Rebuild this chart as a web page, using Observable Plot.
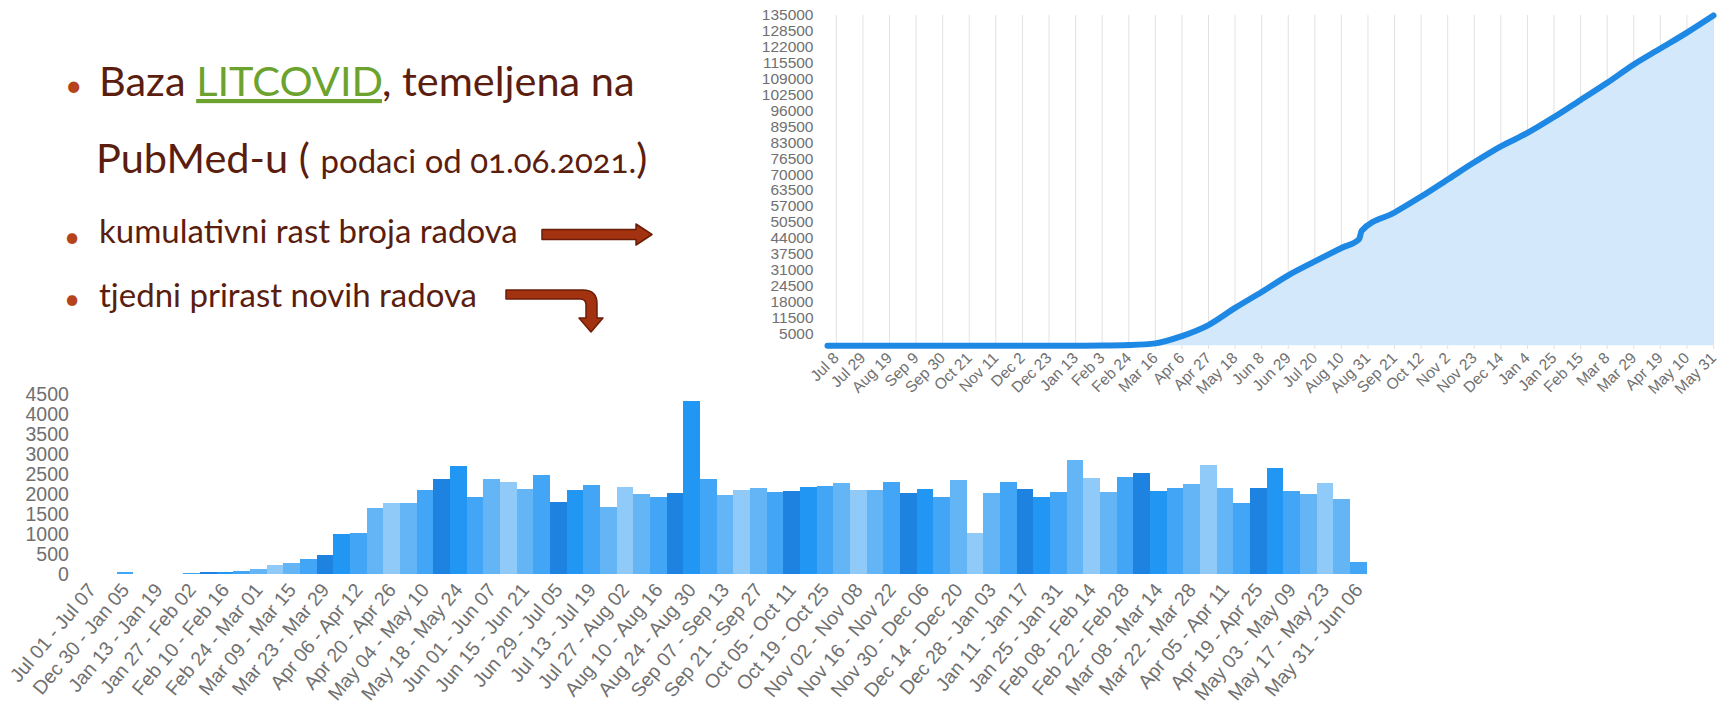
<!DOCTYPE html>
<html><head><meta charset="utf-8">
<script src="https://cdn.jsdelivr.net/npm/d3@7"></script>
<script src="https://cdn.jsdelivr.net/npm/@observablehq/plot@0.6"></script>
<style>
html,body{margin:0;padding:0;background:#fff;}
#stage{position:relative;width:1718px;height:710px;overflow:hidden;background:#fff;}
#slide{position:absolute;left:0;top:0;}
#weekly{position:absolute;left:0;top:380px;}
#cum{position:absolute;left:700px;top:0;}
#weekly [aria-label^="y-axis"]{font-size:19.5px;}
</style></head><body>
<div id="stage">
<svg id="slide" width="700" height="360" font-family="Lato, 'Open Sans', sans-serif">
  <g fill="#b5441c">
    <text x="65" y="96" font-size="30">•</text>
    <text x="64" y="247" font-size="28">•</text>
    <text x="64" y="309" font-size="28">•</text>
  </g>
  <g fill="#5b1d0e">
    <text x="99" y="96" font-size="41.5">Baza <tspan fill="#6ba32e" text-decoration="underline">LITCOVID</tspan>, temeljena na</text>
    <text x="96" y="173" font-size="41.5">PubMed-u ( <tspan font-size="33" style="font-variant-numeric:oldstyle-nums">podaci od 01.06.2021.</tspan>)</text>
    <text x="99" y="243" font-size="33">kumulativni rast broja radova</text>
    <text x="99" y="307" font-size="33">tjedni prirast novih radova</text>
  </g>
  <g fill="#a33210" stroke="#6b1e07" stroke-width="1.5" stroke-linejoin="round">
    <path d="M542,229.5 H636 V224 L652,234.5 L636,245 V239.5 H542 Z"/>
    <path d="M506,290 H583 Q597,290 597,304 V318 H603 L591,332 L579,318 H586 V305 Q586,299 580,299 H506 Z"/>
  </g>
</svg>
<div id="weekly"></div>
<div id="cum"></div>
</div>
<script>
// ---- cumulative chart data ----
const cumDates = ["2019-07-01","2019-07-29","2019-08-19","2019-09-09","2019-09-30","2019-10-21","2019-11-11","2019-12-02","2019-12-23","2020-01-13","2020-02-03","2020-02-24","2020-03-16","2020-04-06","2020-04-27","2020-05-18","2020-06-08","2020-06-29","2020-07-20","2020-08-10","2020-08-24","2020-08-26","2020-09-21","2020-10-12","2020-11-02","2020-11-23","2020-12-14","2021-01-04","2021-01-25","2021-02-15","2021-03-08","2021-03-29","2021-04-19","2021-05-10","2021-05-31"];
const cumValues = [0,0,0,0,0,0,0,0,0,50,100,300,1000,4000,8500,15500,22000,28800,34500,40000,43600,47000,54500,61000,68000,75000,81500,87000,93500,100500,107500,115000,121500,128000,135000];
const cumTicks = ["2019-07-08","2019-07-29","2019-08-19","2019-09-09","2019-09-30","2019-10-21","2019-11-11","2019-12-02","2019-12-23","2020-01-13","2020-02-03","2020-02-24","2020-03-16","2020-04-06","2020-04-27","2020-05-18","2020-06-08","2020-06-29","2020-07-20","2020-08-10","2020-08-31","2020-09-21","2020-10-12","2020-11-02","2020-11-23","2020-12-14","2021-01-04","2021-01-25","2021-02-15","2021-03-08","2021-03-29","2021-04-19","2021-05-10","2021-05-31"];
const cumYTicks = [5000,11500,18000,24500,31000,37500,44000,50500,57000,63500,70000,76500,83000,89500,96000,102500,109000,115500,122000,128500,135000];

// ---- weekly chart data ----
const weekLabels = ["Jul 01 - Jul 07","Dec 23 - Dec 29","Dec 30 - Jan 05","Jan 06 - Jan 12","Jan 13 - Jan 19","Jan 20 - Jan 26","Jan 27 - Feb 02","Feb 03 - Feb 09","Feb 10 - Feb 16","Feb 17 - Feb 23","Feb 24 - Mar 01","Mar 02 - Mar 08","Mar 09 - Mar 15","Mar 16 - Mar 22","Mar 23 - Mar 29","Mar 30 - Apr 05","Apr 06 - Apr 12","Apr 13 - Apr 19","Apr 20 - Apr 26","Apr 27 - May 03","May 04 - May 10","May 11 - May 17","May 18 - May 24","May 25 - May 31","Jun 01 - Jun 07","Jun 08 - Jun 14","Jun 15 - Jun 21","Jun 22 - Jun 28","Jun 29 - Jul 05","Jul 06 - Jul 12","Jul 13 - Jul 19","Jul 20 - Jul 26","Jul 27 - Aug 02","Aug 03 - Aug 09","Aug 10 - Aug 16","Aug 17 - Aug 23","Aug 24 - Aug 30","Aug 31 - Sep 06","Sep 07 - Sep 13","Sep 14 - Sep 20","Sep 21 - Sep 27","Sep 28 - Oct 04","Oct 05 - Oct 11","Oct 12 - Oct 18","Oct 19 - Oct 25","Oct 26 - Nov 01","Nov 02 - Nov 08","Nov 09 - Nov 15","Nov 16 - Nov 22","Nov 23 - Nov 29","Nov 30 - Dec 06","Dec 07 - Dec 13","Dec 14 - Dec 20","Dec 21 - Dec 27","Dec 28 - Jan 03","Jan 04 - Jan 10","Jan 11 - Jan 17","Jan 18 - Jan 24","Jan 25 - Jan 31","Feb 01 - Feb 07","Feb 08 - Feb 14","Feb 15 - Feb 21","Feb 22 - Feb 28","Mar 01 - Mar 07","Mar 08 - Mar 14","Mar 15 - Mar 21","Mar 22 - Mar 28","Mar 29 - Apr 04","Apr 05 - Apr 11","Apr 12 - Apr 18","Apr 19 - Apr 25","Apr 26 - May 02","May 03 - May 09","May 10 - May 16","May 17 - May 23","May 24 - May 30","May 31 - Jun 06"];
const weeklyCounts = [0,0,50,0,0,10,25,55,60,85,125,220,265,375,475,1000,1025,1640,1775,1770,2100,2375,2700,1920,2370,2290,2125,2470,1810,2100,2225,1685,2165,2000,1915,2025,4320,2375,1975,2110,2140,2060,2080,2170,2190,2275,2100,2100,2290,2015,2115,1935,2350,1015,2025,2300,2125,1935,2050,2860,2400,2040,2430,2520,2065,2150,2250,2725,2140,1765,2150,2660,2080,2000,2270,1880,300];
const weeklyYTicks = [0,500,1000,1500,2000,2500,3000,3500,4000,4500];

const shades = ["#1e82e0","#2196f3","#42a5f5","#64b5f6","#90caf9","#64b5f6","#42a5f5"];

const axisFont = "'Liberation Sans', Arial, sans-serif";

const cumData = cumDates.map((d, i) => ({date: new Date(d), value: cumValues[i]}));
const tickDates = cumTicks.map(d => new Date(d));

const cum = Plot.plot({
  width: 1018, height: 420,
  marginLeft: 127, marginRight: 5, marginTop: 15, marginBottom: 71,
  style: {background: "transparent", fontFamily: axisFont, fontSize: "15.5px", color: "#707070", overflow: "visible"},
  x: {type: "utc", domain: [new Date("2019-07-01"), new Date("2021-05-31")], ticks: tickDates,
      tickFormat: d3.utcFormat("%b %-d"), tickRotate: -45, tickSize: 0, tickPadding: 6, label: null},
  y: {domain: [-1500, 135000], ticks: cumYTicks, tickFormat: d3.format("d"), tickSize: 0, tickPadding: 14, label: null},
  marks: [
    Plot.ruleX(tickDates, {stroke: "#e2e2e2"}),
    Plot.areaY(cumData, {x: "date", y: "value", fill: "#d3e8fa", curve: "monotone-x"}),
    Plot.lineY(cumData, {x: "date", y: "value", stroke: "#1e88e5", strokeWidth: 6, curve: "monotone-x", strokeLinejoin: "round", strokeLinecap: "round"})
  ]
});
document.getElementById("cum").appendChild(cum);

const weeklyData = weekLabels.map((w, i) => ({week: w, count: weeklyCounts[i], k: i}));
const weekly = Plot.plot({
  width: 1400, height: 330,
  marginLeft: 83.33, marginRight: 33.33, marginTop: 14, marginBottom: 136,
  style: {background: "transparent", fontFamily: axisFont, fontSize: "19.5px", color: "#707070", overflow: "visible"},
  x: {type: "band", domain: weekLabels, padding: 0, round: false,
      tickFormat: d => weekLabels.indexOf(d) % 2 === 0 ? d : "",
      tickRotate: -50, tickSize: 0, tickPadding: 12, label: null},
  y: {domain: [0, 4500], ticks: weeklyYTicks, tickFormat: d3.format("d"), tickSize: 0, tickPadding: 15, label: null},
  color: {type: "identity"},
  marks: [
    Plot.barY(weeklyData, {x: "week", y: "count", fill: d => shades[d.k % 7], shapeRendering: "crispEdges"})
  ]
});
document.getElementById("weekly").appendChild(weekly);
</script>
</body></html>
